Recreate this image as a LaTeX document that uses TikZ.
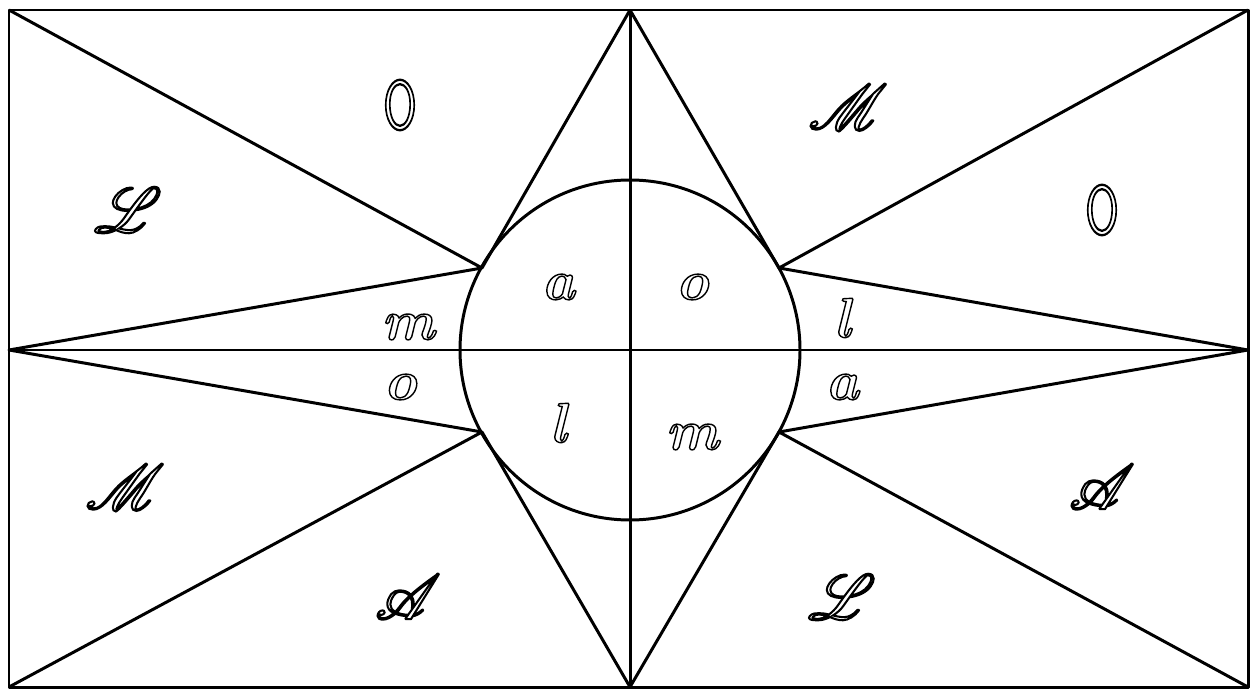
\documentclass[tikz,border=0pt]{standalone}
\usepackage{mathrsfs}
\usepackage{graphicx}
\newcommand{\olet}[1]{\special{pdf:literal direct 1 Tr 0.8 w}#1\special{pdf:literal direct 0 Tr}}
\newcommand{\scap}[1]{\scalebox{1.45}{$\mathscr{#1}$}}
\begin{document}
\begin{tikzpicture}[x=0.02cm,y=-0.02cm,
  edge/.style={line width=1.7pt,black,line join=round},
  letter/.style={font=\fontsize{32}{32}\selectfont\bfseries\itshape,inner sep=0pt},
  capital/.style={font=\fontsize{24}{24}\selectfont,inner sep=0pt}]
\useasboundingbox (0,0) rectangle (1250,689);
\coordinate (TL) at (9,10);
\coordinate (TR) at (1248,10);
\coordinate (BL) at (9,687);
\coordinate (BR) at (1248,687);
\coordinate (ML) at (9,350);
\coordinate (MR) at (1248,350);
\coordinate (T) at (630,10);
\coordinate (B) at (630,687);
\coordinate (C) at (630,350);
\coordinate (P1) at (482,268);
\coordinate (P2) at (779,268);
\coordinate (P3) at (482,432);
\coordinate (P4) at (779,432);
\draw[edge] (TL) rectangle (BR);
\draw[edge] (C) circle (170);
\draw[edge] (T) -- (B);
\draw[edge] (ML) -- (MR);
\draw[edge] (T) -- (P1) (T) -- (P2) (B) -- (P3) (B) -- (P4);
\draw[edge] (TL) -- (P1) -- (ML) -- (P3) -- (BL);
\draw[edge] (TR) -- (P2) -- (MR) -- (P4) -- (BR);
\node[capital] (l1) at (400,105) {\olet{\scalebox{1.15}[1.65]{\sffamily O}}};
\node[capital] (l2) at (848,107) {\olet{\scap{M}}};
\node[capital] (l3) at (128,210) {\olet{\scap{L}}};
\node[capital] (l4) at (1102,210) {\olet{\scalebox{1.15}[1.65]{\sffamily O}}};
\node[letter] (l5) at (558,287) {\olet{a}};
\node[letter] (l6) at (692,287) {\olet{o}};
\node[letter] (l7) at (408,327) {\olet{m}};
\node[letter] (l8) at (842,318) {\olet{l}};
\node[letter] (l9) at (400,387) {\olet{o}};
\node[letter] (l10) at (842,387) {\olet{a}};
\node[letter] (l11) at (558,423) {\olet{l}};
\node[letter] (l12) at (692,437) {\olet{m}};
\node[capital] (l13) at (125,487) {\olet{\scap{M}}};
\node[capital] (l14) at (1102,487) {\olet{\scap{A}}};
\node[capital] (l15) at (408,597) {\olet{\scap{A}}};
\node[capital] (l16) at (842,597) {\olet{\scap{L}}};
\end{tikzpicture}
\end{document}
